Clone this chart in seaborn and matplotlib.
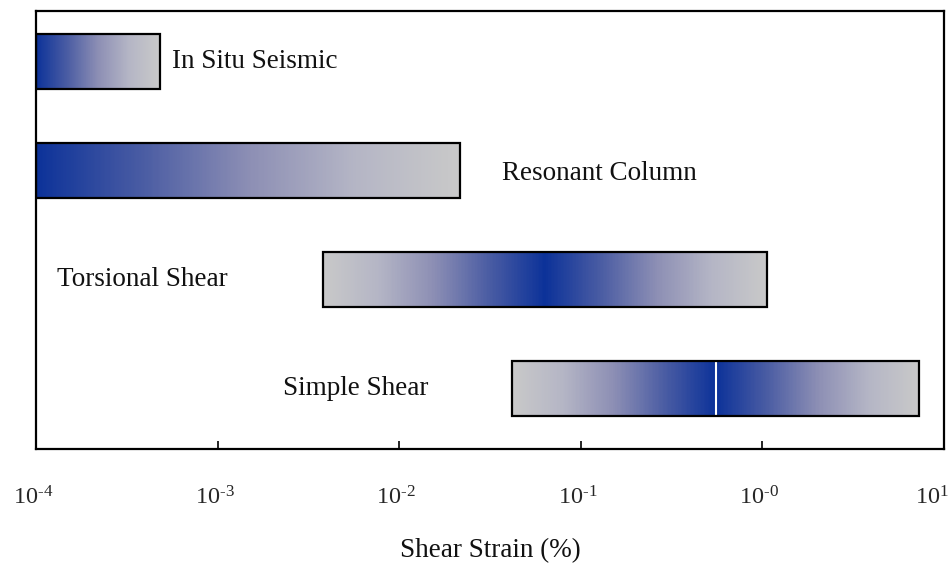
import numpy as np
import matplotlib
matplotlib.use("Agg")
import matplotlib.pyplot as plt
from matplotlib.colors import LinearSegmentedColormap
from matplotlib.transforms import ScaledTranslation
import seaborn as sns

# Strain ranges covered by each laboratory / field test method
methods = ["In Situ Seismic", "Resonant Column", "Torsional Shear", "Simple Shear"]
strain_min = [1e-4, 1e-4, 0.0038, 0.042]
strain_max = [4.8e-4, 0.0217, 1.06, 7.3]
# where the shading is darkest: at the lower end or in the middle of the range
blue_at = ["start", "start", "middle", "middle"]
# methods whose range is split by a thin divider at the darkest point
divided = [False, False, False, True]
label_x = [5.6e-4, 0.0366, 1.3e-4, 2.3e-3]

tick_values = [1e-4, 1e-3, 1e-2, 1e-1, 1e0, 1e1]
tick_labels = [r"$\mathregular{10^{\text{-}4}}$", r"$\mathregular{10^{\text{-}3}}$",
               r"$\mathregular{10^{\text{-}2}}$", r"$\mathregular{10^{\text{-}1}}$",
               r"$\mathregular{10^{\text{-}0}}$", r"$\mathregular{10^{1}}$"]

sns.set_theme(style="white")
plt.rcParams["font.family"] = ["Liberation Serif", "DejaVu Serif"]
plt.rcParams["mathtext.fontset"] = "custom"
plt.rcParams["mathtext.rm"] = "Liberation Serif"
plt.rcParams["mathtext.it"] = "Liberation Serif:italic"
plt.rcParams["mathtext.bf"] = "Liberation Serif:bold"

shade = LinearSegmentedColormap.from_list(
    "blue_gray", [(0.0, "#0c3299"), (0.25, "#4a5ca3"), (0.5, "#8c8eb4"),
                  (0.75, "#b4b5c5"), (1.0, "#c9c9c9")])

fig = plt.figure(figsize=(9.53, 5.63), dpi=100)
ax = fig.add_axes([0.0378, 0.2025, 0.9528, 0.778])
ax.set_xscale("log")
ax.set_xlim(1e-4, 1e1)
ax.set_ylim(3.555, -0.463)

bar_h = 0.5
for i, (name, lo, hi, mode, div) in enumerate(zip(methods, strain_min, strain_max,
                                                   blue_at, divided)):
    # outline of the range
    bar = ax.barh(i, hi - lo, left=lo, height=bar_h, facecolor="none",
                  edgecolor="black", linewidth=1.6, zorder=3)[0]
    # gradient fill, evenly spaced on the log axis
    n = 300
    xe = np.logspace(np.log10(lo), np.log10(hi), n + 1)
    ye = np.array([i - bar_h / 2, i + bar_h / 2])
    t = (np.arange(n) + 0.5) / n
    if mode == "start":
        vals = t
    else:
        vals = np.abs(t - 0.5) * 2
    mesh = ax.pcolormesh(xe, ye, vals[None, :], cmap=shade, vmin=0, vmax=1,
                         shading="flat", zorder=2)
    mesh.set_clip_path(bar)
    if div:
        mid = 10 ** ((np.log10(lo) + np.log10(hi)) / 2)
        ax.vlines(mid, i - bar_h / 2, i + bar_h / 2, color="white", linewidth=1.5,
                  zorder=2.5)
    dy = 0.03 if name == "Resonant Column" else 0.0
    ax.text(label_x[i], i + dy, name, ha="left", va="center", fontsize=19.5,
            color="#111111", zorder=4)

ax.set_yticks([])
ax.set_xticks(tick_values)
ax.set_xticklabels(tick_labels, fontsize=17.5)
ax.minorticks_off()
ax.tick_params(axis="x", which="major", direction="in", length=6, width=1.2,
               color="black", pad=27, bottom=True, top=False)
for lab in ax.get_xticklabels():
    lab.set_transform(lab.get_transform() + ScaledTranslation(-3 / 100, 0, fig.dpi_scale_trans))
last = ax.get_xticklabels()[-1]
last.set_horizontalalignment("right")
last.set_transform(last.get_transform() + ScaledTranslation(8 / 100, 0, fig.dpi_scale_trans))
for s in ax.spines.values():
    s.set_visible(True)
    s.set_color("black")
    s.set_linewidth(1.6)
ax.set_xlabel("Shear Strain (%)", fontsize=19.5, labelpad=20.5, color="#111111")

fig.savefig("out.png", dpi=100)
